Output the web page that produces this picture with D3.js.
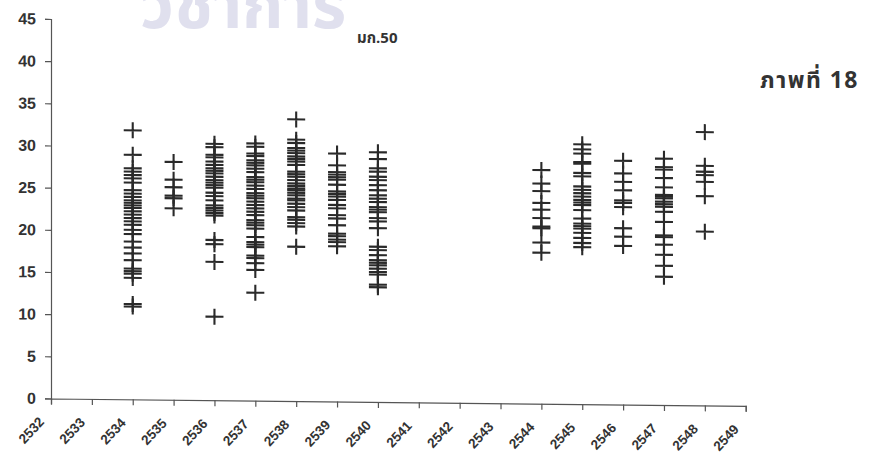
<!DOCTYPE html>
<html>
<head>
<meta charset="utf-8">
<script src="https://cdn.jsdelivr.net/npm/d3@7/dist/d3.min.js"></script>
<style>
  html, body { margin: 0; padding: 0; background: #fff; }
  svg { display: block; }
  .tick text { font-family: "Liberation Sans", Arial, sans-serif; font-weight: bold; fill: #333; }
</style>
</head>
<body>
<svg id="chart" width="871" height="455"></svg>
<script>
// Years on the x axis and the years that carry readings
const yearTicks = d3.range(2532, 2550);
const valueTicks = d3.range(0, 46, 5);
const years = [2534, 2535, 2536, 2537, 2538, 2539, 2540, 2544, 2545, 2546, 2547, 2548];

// Readings per year
const v2534 = [31.9, 29.0, 27.4, 27.0, 26.6, 26.2, 25.7, 24.8, 24.4, 24.0, 23.6, 23.3, 23.0, 22.7, 22.3, 21.9, 21.5, 21.1, 20.7, 20.1, 19.6, 18.7, 18.0, 17.3, 16.5, 15.5, 15.2, 14.9, 14.4, 11.3, 11.0];
const v2535 = [28.2, 26.1, 25.2, 24.2, 23.9, 22.7];
const v2536 = [30.4, 30.0, 29.1, 28.8, 28.3, 27.9, 27.5, 27.2, 26.9, 26.5, 26.1, 25.8, 25.5, 25.2, 24.6, 24.2, 23.7, 23.1, 22.8, 22.5, 22.2, 21.9, 19.0, 18.5, 16.4, 9.9];
const v2537 = [30.5, 30.1, 29.3, 29.0, 28.5, 28.2, 27.9, 27.5, 27.1, 26.5, 26.2, 25.9, 25.5, 25.1, 24.6, 24.3, 24.0, 23.6, 23.2, 22.8, 22.4, 22.0, 21.4, 21.1, 20.8, 20.4, 19.4, 18.8, 18.5, 18.2, 17.2, 16.9, 16.3, 15.5, 12.8];
const v2538 = [33.4, 31.0, 30.6, 30.0, 29.7, 29.4, 29.0, 28.7, 28.4, 28.0, 27.2, 26.9, 26.6, 26.2, 25.8, 25.5, 25.2, 25.0, 24.7, 24.4, 24.0, 23.8, 23.4, 23.0, 22.6, 21.8, 21.5, 21.1, 20.7, 18.3];
const v2539 = [29.4, 28.0, 27.2, 26.9, 26.6, 26.3, 25.7, 24.9, 24.6, 24.3, 23.9, 23.3, 22.9, 22.1, 21.7, 20.9, 19.9, 19.6, 19.2, 18.9, 18.4];
const v2540 = [29.6, 28.8, 27.7, 27.3, 26.7, 26.3, 25.7, 25.1, 24.5, 24.1, 23.7, 23.1, 22.8, 22.5, 21.8, 21.4, 20.6, 18.4, 18.0, 17.4, 16.8, 16.5, 16.2, 15.8, 15.4, 15.1, 13.9, 13.6];
const v2544 = [27.7, 26.1, 25.2, 23.8, 23.0, 22.0, 21.0, 20.8, 19.1, 17.9];
const v2545 = [30.8, 30.2, 29.7, 28.7, 28.5, 27.4, 27.0, 25.8, 25.4, 25.0, 24.6, 24.2, 23.9, 23.6, 23.0, 22.0, 21.4, 21.1, 20.8, 20.3, 19.7, 19.1, 18.6];
const v2546 = [28.9, 27.4, 26.4, 25.4, 24.2, 23.9, 23.4, 20.9, 19.9, 18.8];
const v2547 = [29.2, 28.2, 27.9, 26.9, 25.8, 24.9, 24.7, 24.5, 24.1, 23.8, 23.5, 22.9, 21.7, 20.1, 19.9, 19.0, 17.8, 16.5, 15.2];
const v2548 = [32.4, 28.4, 27.7, 27.3, 26.5, 24.8, 20.6];

const readings = [v2534, v2535, v2536, v2537, v2538, v2539, v2540, v2544, v2545, v2546, v2547, v2548];

const titleText = "มก.50";
const figureText = "ภาพที่ 18";
const stampText = "วิชาการ";

const points = [];
years.forEach((yr, i) => readings[i].forEach(v => points.push({ year: yr, value: v })));

const svg = d3.select("#chart");
svg.append("rect").attr("width", 871).attr("height", 455).attr("fill", "#fff");

// faint stamp across the top edge, left of the title
svg.append("text")
  .attr("x", 140).attr("y", 28)
  .attr("font-family", "'Noto Sans Thai', 'Noto Sans', sans-serif")
  .attr("font-weight", "bold")
  .attr("font-size", 66)
  .attr("fill", "#e0e0ee")
  .text(stampText);

const x = d3.scaleLinear().domain([2532, 2549]).range([51, 745.7]);
const y = d3.scaleLinear().domain([0, 45]).range([398.5, 19]);

// the sheet sits with a slight downward slope to the right
const slope = 0.0105;
const plot = svg.append("g")
  .attr("transform", `matrix(1,${slope},0,1,0,${-slope * 51})`);

// y axis
const yAxis = plot.append("g")
  .attr("transform", "translate(51,0)")
  .call(d3.axisLeft(y).tickValues(valueTicks).tickSize(6).tickPadding(9));
yAxis.selectAll("text").attr("font-size", 16);

// x axis
const xAxis = plot.append("g")
  .attr("transform", `translate(0,${y(0)})`)
  .call(d3.axisBottom(x).tickValues(yearTicks).tickFormat(d3.format("d")).tickSize(6));
xAxis.selectAll("text")
  .attr("font-size", 13.5)
  .attr("text-anchor", "end")
  .attr("dy", "0.35em")
  .attr("transform", "translate(-10,21) rotate(-47)")
  .attr("y", 0).attr("x", 0);

[yAxis, xAxis].forEach(a => {
  a.select(".domain").attr("stroke", "#555").attr("stroke-width", 1.2);
  a.selectAll(".tick line").attr("stroke", "#555").attr("stroke-width", 1.2);
});

// plus markers
plot.append("g")
  .selectAll("path")
  .data(points)
  .join("path")
  .attr("transform", d => `translate(${x(d.year)},${y(d.value)})`)
  .attr("d", "M-9,0H9M0,-8V8")
  .attr("fill", "none")
  .attr("stroke", "#2a2a2a")
  .attr("stroke-width", 2.1);

// titles
svg.append("text")
  .attr("x", 357).attr("y", 43)
  .attr("font-family", "'Noto Sans Thai', 'Liberation Sans', sans-serif")
  .attr("font-weight", "bold")
  .attr("font-size", 15)
  .attr("fill", "#333")
  .text(titleText);

svg.append("text")
  .attr("x", 760).attr("y", 88)
  .attr("font-family", "'Noto Sans Thai', 'Liberation Sans', sans-serif")
  .attr("font-weight", "bold")
  .attr("font-size", 23)
  .attr("letter-spacing", 1.5)
  .attr("fill", "#333")
  .text(figureText);
</script>
</body>
</html>
